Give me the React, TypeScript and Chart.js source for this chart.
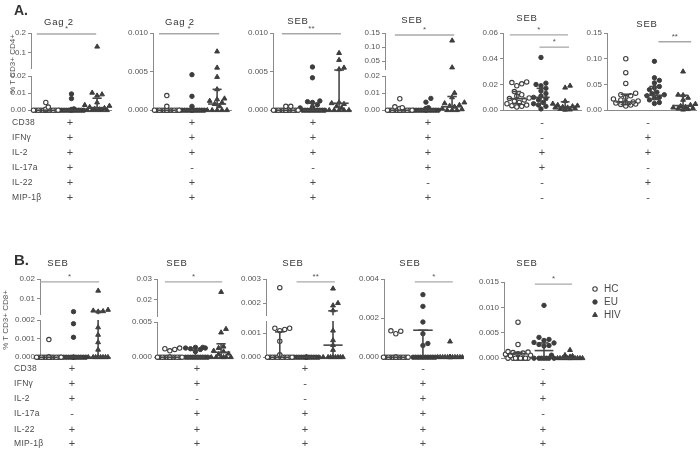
import React, { useEffect, useRef } from 'react';
import { Chart, registerables } from 'chart.js';

Chart.register(...registerables);

const FONT = '"Liberation Sans", Arial, Helvetica, sans-serif';
const INK = '#3d3d3d';
const AXIS = '#8a8a8a';
const SIGC = '#a8a8a8';
const TXT = '#4a4a4a';

const GROUP_NAMES = ['HC', 'EU', 'HIV'];

// ---------- Panel A1 (Gag 2, CD4) ----------
const a1HC = [0, 0, 0, 0, 0, 0, 0, 0, 0, 0, 0, 0, 0, 0.0006, 0.0018, 0.0045];
const a1EU = [0, 0, 0, 0, 0, 0, 0, 0, 0, 0, 0, 0, 0.0004, 0.0008, 0.0068, 0.0095];
const a1HIV = [0, 0, 0, 0, 0, 0.0004, 0.0008, 0.0012, 0.0018, 0.0025, 0.003, 0.0045, 0.0085, 0.0092, 0.0102, 0.13];
const a1Med = [0, 0, 0.0015];
const a1Q1 = [0, 0, 0];
const a1Q3 = [0, 0, 0.007];
const a1Sig = [{ from: -0.35, to: 1.96, y: 0.195, label: '*' }];

// ---------- Panel A2 (Gag 2) ----------
const a2HC = [0, 0, 0, 0, 0, 0, 0, 0, 0, 0, 0, 0, 0, 0, 0, 0.0005, 0.0019];
const a2EU = [0, 0, 0, 0, 0, 0, 0, 0, 0, 0, 0, 0, 0, 0.0005, 0.0018, 0.0046];
const a2HIV = [0, 0, 0, 0, 0, 0.0005, 0.0008, 0.001, 0.0012, 0.0014, 0.0015, 0.0027, 0.0043, 0.0055, 0.0076];
const a2Med = [0, 0, 0.0008];
const a2Q1 = [0, 0, 0];
const a2Q3 = [0, 0, 0.0027];
const a2Sig = [{ from: -0.31, to: 2.08, y: 0.0099, label: '*' }];

// ---------- Panel A3 (SEB) ----------
const a3HC = [0, 0, 0, 0, 0, 0, 0, 0, 0, 0, 0, 0, 0, 0, 0, 0.0005, 0.0005];
const a3EU = [0, 0, 0, 0, 0, 0, 0, 0, 0, 0, 0.0003, 0.0004, 0.0007, 0.001, 0.0011, 0.0012, 0.0042, 0.0056];
const a3HIV = [0, 0, 0, 0, 0, 0.0003, 0.0005, 0.0008, 0.0009, 0.001, 0.0053, 0.0055, 0.0065, 0.0074];
const a3Med = [0, 0, 0.0009];
const a3Q1 = [0, 0, 0];
const a3Q3 = [0, 0.0009, 0.0052];
const a3Sig = [{ from: -0.15, to: 2.07, y: 0.0099, label: '**' }];

// ---------- Panel A4 (SEB) ----------
const a4HC = [0, 0, 0, 0, 0, 0, 0, 0, 0, 0, 0, 0, 0, 0, 0.001, 0.0015, 0.002, 0.0067];
const a4EU = [0, 0, 0, 0, 0, 0, 0, 0, 0, 0, 0, 0, 0.001, 0.0015, 0.0047, 0.0069];
const a4HIV = [0, 0, 0, 0.0005, 0.001, 0.002, 0.0025, 0.003, 0.004, 0.0045, 0.0075, 0.0101, 0.028, 0.123];
const a4Med = [0, 0, 0.002];
const a4Q1 = [0, 0, 0];
const a4Q3 = [0, 0, 0.008];
const a4Sig = [{ from: -0.19, to: 2.08, y: 0.143, label: '*' }];

// ---------- Panel A5 (SEB) ----------
const a5HC = [0.0025, 0.003, 0.0035, 0.004, 0.005, 0.006, 0.007, 0.008, 0.009, 0.0095, 0.011, 0.012, 0.0145, 0.019, 0.0205, 0.0215, 0.022];
const a5EU = [0.001, 0.003, 0.004, 0.005, 0.006, 0.008, 0.009, 0.01, 0.011, 0.013, 0.015, 0.017, 0.019, 0.02, 0.021, 0.041];
const a5HIV = [0.0003, 0.0005, 0.001, 0.0015, 0.002, 0.002, 0.0025, 0.003, 0.0035, 0.004, 0.005, 0.007, 0.0175, 0.019];
const a5Med = [0.009, 0.01, 0.0025];
const a5Q1 = [0.005, 0.005, 0.001];
const a5Q3 = [0.0145, 0.017, 0.0065];
const a5Sig = [
  { from: -0.29, to: 2.12, y: 0.0585, label: '*' },
  { from: 0.94, to: 2.16, y: 0.049, label: '*' },
];

// ---------- Panel A6 (SEB) ----------
const a6HC = [0.008, 0.01, 0.011, 0.012, 0.014, 0.015, 0.016, 0.018, 0.02, 0.022, 0.025, 0.028, 0.03, 0.033, 0.052, 0.073, 0.1];
const a6EU = [0.013, 0.015, 0.02, 0.024, 0.025, 0.028, 0.03, 0.032, 0.035, 0.04, 0.044, 0.046, 0.053, 0.058, 0.063, 0.095];
const a6HIV = [0.001, 0.002, 0.003, 0.004, 0.005, 0.006, 0.008, 0.01, 0.012, 0.02, 0.024, 0.029, 0.03, 0.075];
const a6Med = [0.016, 0.029, 0.009];
const a6Q1 = [0.011, 0.021, 0.002];
const a6Q3 = [0.031, 0.046, 0.029];
const a6Sig = [{ from: 1.14, to: 2.28, y: 0.133, label: '**' }];

// ---------- Panel B1 (SEB, CD8) ----------
const b1HC = [0, 0, 0, 0, 0, 0, 0, 0, 0, 0, 0, 0, 0, 0, 0, 0.00095];
const b1EU = [0, 0, 0, 0, 0, 0, 0, 0, 0, 0, 0, 0, 0, 0.00107, 0.0018, 0.0033];
const b1HIV = [0, 0, 0, 0, 0, 0, 0, 0, 0.0004, 0.0008, 0.0012, 0.0016, 0.0033, 0.0035, 0.0038, 0.0042, 0.014];
const b1Med = [0, 0, 0];
const b1Q1 = [0, 0, 0];
const b1Q3 = [0, 0, 0.0035];
const b1Sig = [{ from: -0.36, to: 2.04, y: 0.0185, label: '*' }];

// ---------- Panel B2 (SEB) ----------
const b2HC = [0, 0, 0, 0, 0, 0, 0, 0, 0, 0, 0, 0, 0, 0, 0.0009, 0.0011, 0.0012, 0.0013];
const b2EU = [0, 0, 0, 0, 0, 0, 0, 0, 0, 0, 0.0008, 0.0011, 0.0012, 0.0013, 0.0013, 0.0014, 0.0014];
const b2HIV = [0, 0, 0, 0, 0, 0, 0.0004, 0.0005, 0.0008, 0.0009, 0.0013, 0.0015, 0.0035, 0.004, 0.0237];
const b2Med = [0, 0, 0.0007];
const b2Q1 = [0, 0, 0];
const b2Q3 = [0, 0.001, 0.0019];
const b2Sig = [{ from: -0.19, to: 2.04, y: 0.0286, label: '*' }];

// ---------- Panel B3 (SEB) ----------
const b3HC = [0, 0, 0, 0, 0, 0, 0, 0, 0, 0, 0, 0.0001, 0.00066, 0.0011, 0.00115, 0.0012, 0.0012, 0.00264];
const b3EU = [0, 0, 0, 0, 0, 0, 0, 0, 0, 0, 0, 0, 0, 0, 0];
const b3HIV = [0, 0, 0, 0, 0, 0, 0, 0, 0.0003, 0.0005, 0.0007, 0.0011, 0.0017, 0.0019, 0.002, 0.0026];
const b3Med = [0, 0, 0.0005];
const b3Q1 = [0, 0, 0];
const b3Q3 = [0.00105, 0, 0.00168];
const b3Sig = [{ from: 0.63, to: 2.07, y: 0.00288, label: '**' }];

// ---------- Panel B4 (SEB) ----------
const b4HC = [0, 0, 0, 0, 0, 0, 0, 0, 0, 0, 0, 0, 0, 0, 0.0012, 0.00133, 0.00135];
const b4EU = [0, 0, 0, 0, 0, 0, 0, 0, 0, 0, 0.0006, 0.0007, 0.0012, 0.0018, 0.0026, 0.0032];
const b4HIV = [0, 0, 0, 0, 0, 0, 0, 0, 0, 0, 0, 0, 0, 0, 0.0008];
const b4Med = [0, 0.00138, 0];
const b4Q1 = [0, 0, 0];
const b4Q3 = [0, 0.00138, 0];
const b4Sig = [{ from: 0.7, to: 2.1, y: 0.00385, label: '*' }];

// ---------- Panel B5 (SEB) ----------
const b5HC = [0, 0, 0, 0, 0, 0, 0, 0, 0.0005, 0.0006, 0.0008, 0.0009, 0.001, 0.0011, 0.0012, 0.0013, 0.0027, 0.0071];
const b5EU = [0, 0, 0, 0, 0, 0, 0, 0.0006, 0.0024, 0.0025, 0.0027, 0.003, 0.0031, 0.0035, 0.0037, 0.0041, 0.0104];
const b5HIV = [0, 0, 0, 0, 0, 0, 0, 0, 0, 0, 0, 0, 0.0003, 0.0004, 0.0006, 0.0016];
const b5Med = [0.0009, 0.0015, 0];
const b5Q1 = [0, 0, 0];
const b5Q3 = [0.0011, 0.003, 0];
const b5Sig = [{ from: 0.65, to: 2.08, y: 0.0146, label: '*' }];

// ---------- Marker tables ----------
const MARKER_ROWS = ['CD38', 'IFNγ', 'IL-2', 'IL-17a', 'IL-22', 'MIP-1β'];
const signsA = ['++++++', '+++-++', '+++-++', '++++-+', '--++--', '-++-+-'];
const signsB = ['+++-++', '++-+++', '+--+++', '-+++++', '-++-++'];
const colXA = [70, 192, 313, 428, 542, 648];
const colXB = [72, 197, 305, 423, 543];
const rowYA = [122, 137, 152, 167, 182, 197];
const rowYB = [368, 383, 398, 413, 429, 443];

type Seg = { min: number; max: number; ticks: number[]; dec: number; top: number; bottom: number };
type Sig = { from: number; to: number; y: number; label: string };
type PanelDef = {
  key: string; title: string; tx: number; ty: number;
  axisX: number; xEnd: number; g0: number; g2: number;
  segs: Seg[]; groups: number[][]; med: number[]; q1: number[]; q3: number[]; sig: Sig[]; legend?: boolean;
};

const PANELS: PanelDef[] = [
  { key: 'a1', title: 'Gag 2', tx: 59, ty: 22, axisX: 31, xEnd: 113, g0: 46, g2: 98,
    segs: [
      { min: 0.02, max: 0.2, ticks: [0.1, 0.2], dec: 1, top: 33, bottom: 69 },
      { min: 0, max: 0.02, ticks: [0, 0.01, 0.02], dec: 2, top: 76, bottom: 111 },
    ], groups: [a1HC, a1EU, a1HIV], med: a1Med, q1: a1Q1, q3: a1Q3, sig: a1Sig },
  { key: 'a2', title: 'Gag 2', tx: 180, ty: 22, axisX: 153, xEnd: 233, g0: 167, g2: 218,
    segs: [{ min: 0, max: 0.01, ticks: [0, 0.005, 0.01], dec: 3, top: 33, bottom: 111 }],
    groups: [a2HC, a2EU, a2HIV], med: a2Med, q1: a2Q1, q3: a2Q3, sig: a2Sig },
  { key: 'a3', title: 'SEB', tx: 298, ty: 21, axisX: 273, xEnd: 353, g0: 286, g2: 340,
    segs: [{ min: 0, max: 0.01, ticks: [0, 0.005, 0.01], dec: 3, top: 33, bottom: 111 }],
    groups: [a3HC, a3EU, a3HIV], med: a3Med, q1: a3Q1, q3: a3Q3, sig: a3Sig },
  { key: 'a4', title: 'SEB', tx: 412, ty: 20, axisX: 385, xEnd: 465, g0: 400, g2: 453,
    segs: [
      { min: 0.022, max: 0.15, ticks: [0.05, 0.1, 0.15], dec: 2, top: 33, bottom: 70 },
      { min: 0, max: 0.02, ticks: [0, 0.01, 0.02], dec: 2, top: 76, bottom: 111 },
    ], groups: [a4HC, a4EU, a4HIV], med: a4Med, q1: a4Q1, q3: a4Q3, sig: a4Sig },
  { key: 'a5', title: 'SEB', tx: 527, ty: 18, axisX: 503, xEnd: 583, g0: 517, g2: 566,
    segs: [{ min: 0, max: 0.06, ticks: [0, 0.02, 0.04, 0.06], dec: 2, top: 33, bottom: 111 }],
    groups: [a5HC, a5EU, a5HIV], med: a5Med, q1: a5Q1, q3: a5Q3, sig: a5Sig },
  { key: 'a6', title: 'SEB', tx: 647, ty: 24, axisX: 607, xEnd: 698, g0: 626, g2: 684,
    segs: [{ min: 0, max: 0.15, ticks: [0, 0.05, 0.1, 0.15], dec: 2, top: 33, bottom: 111 }],
    groups: [a6HC, a6EU, a6HIV], med: a6Med, q1: a6Q1, q3: a6Q3, sig: a6Sig },
  { key: 'b1', title: 'SEB', tx: 58, ty: 263, axisX: 40, xEnd: 112, g0: 49, g2: 99,
    segs: [
      { min: 0.002, max: 0.02, ticks: [0.01, 0.02], dec: 2, top: 279, bottom: 315 },
      { min: 0, max: 0.002, ticks: [0, 0.001, 0.002], dec: 3, top: 320, bottom: 358 },
    ], groups: [b1HC, b1EU, b1HIV], med: b1Med, q1: b1Q1, q3: b1Q3, sig: b1Sig },
  { key: 'b2', title: 'SEB', tx: 177, ty: 263, axisX: 157, xEnd: 234, g0: 170, g2: 222,
    segs: [
      { min: 0.012, max: 0.03, ticks: [0.02, 0.03], dec: 2, top: 279, bottom: 317 },
      { min: 0, max: 0.005, ticks: [0, 0.005], dec: 3, top: 322, bottom: 358 },
    ], groups: [b2HC, b2EU, b2HIV], med: b2Med, q1: b2Q1, q3: b2Q3, sig: b2Sig },
  { key: 'b3', title: 'SEB', tx: 293, ty: 263, axisX: 266, xEnd: 342, g0: 280, g2: 334,
    segs: [
      { min: 0.0015, max: 0.003, ticks: [0.002, 0.003], dec: 3, top: 279, bottom: 316 },
      { min: 0, max: 0.0015, ticks: [0, 0.001], dec: 3, top: 321, bottom: 358 },
    ], groups: [b3HC, b3EU, b3HIV], med: b3Med, q1: b3Q1, q3: b3Q3, sig: b3Sig },
  { key: 'b4', title: 'SEB', tx: 410, ty: 263, axisX: 384, xEnd: 460, g0: 396, g2: 451,
    segs: [{ min: 0, max: 0.004, ticks: [0, 0.002, 0.004], dec: 3, top: 279, bottom: 358 }],
    groups: [b4HC, b4EU, b4HIV], med: b4Med, q1: b4Q1, q3: b4Q3, sig: b4Sig },
  { key: 'b5', title: 'SEB', tx: 527, ty: 263, axisX: 504, xEnd: 583, g0: 518, g2: 570,
    segs: [{ min: 0, max: 0.015, ticks: [0, 0.005, 0.01, 0.015], dec: 3, top: 282, bottom: 359 }],
    groups: [b5HC, b5EU, b5HIV], med: b5Med, q1: b5Q1, q3: b5Q3, sig: b5Sig, legend: true },
];

const YW = 36;
const PT = 12;
const PB = 6;

function segOf(p: PanelDef, v: number) {
  for (let i = p.segs.length - 1; i > 0; i--) if (v <= p.segs[i].max) return i;
  return 0;
}
function pixelY(p: PanelDef, v: number) {
  const s = p.segs[segOf(p, v)];
  return s.bottom - ((v - s.min) / (s.max - s.min)) * (s.bottom - s.top);
}
// beeswarm placement (layout only): offsets in px around the group centre
const CANDS = [0, 2.5, -2.5, 5, -5, 7.5, -7.5, 10, -10, 12.5, -12.5];
function jitter(vals: number[], p: PanelDef, unit: number, gi: number) {
  const sorted = [...vals].sort((a, b) => a - b);
  const placed: { dx: number; py: number }[] = [];
  const out: { x: number; y: number }[] = [];
  const D = 4.6;
  for (const v of sorted) {
    const py = pixelY(p, v);
    let best = 0;
    let bestD = -1;
    for (const c of CANDS) {
      let md = Infinity;
      for (const q of placed) {
        const d = Math.hypot(c - q.dx, py - q.py);
        if (d < md) md = d;
      }
      if (md >= D) { best = c; bestD = md; break; }
      if (md > bestD + 0.01) { bestD = md; best = c; }
    }
    placed.push({ dx: best, py });
    out.push({ x: gi + best / unit, y: v });
  }
  return out;
}

const STYLES = [
  { pointStyle: 'circle', radius: 2.2, bg: '#ffffff', border: INK, bw: 1.1 },
  { pointStyle: 'circle', radius: 2.2, bg: INK, border: INK, bw: 1 },
  { pointStyle: 'triangle', radius: 2.8, bg: INK, border: INK, bw: 1 },
];

function SegChart({ p, si }: { p: PanelDef; si: number }) {
  const ref = useRef<HTMLCanvasElement>(null);
  const seg = p.segs[si];
  const isBottom = si === p.segs.length - 1;
  const PR = p.legend ? 90 : 4;
  const width = YW + (p.xEnd - p.axisX) + PR;
  const height = PT + (seg.bottom - seg.top) + PB;
  const left = p.axisX - YW;
  const top = seg.top - PT;

  useEffect(() => {
    const unit = (p.g2 - p.g0) / 2;
    const xmin = -(p.g0 - p.axisX) / unit;
    const xmax = 2 + (p.xEnd - p.g2) / unit;
    const datasets = p.groups.map((vals, gi) => {
      const st = STYLES[gi];
      const pts = jitter(vals, p, unit, gi).filter((pt) => segOf(p, pt.y) === si);
      return {
        label: GROUP_NAMES[gi],
        data: pts,
        pointStyle: st.pointStyle,
        pointRadius: st.radius,
        backgroundColor: st.bg,
        borderColor: st.border,
        borderWidth: st.bw,
        showLine: false,
        clip: false,
      };
    });

    const statsPlugin = {
      id: 'stats' + p.key + si,
      afterDatasetsDraw(chart: any) {
        const ctx = chart.ctx;
        const xs = chart.scales.x;
        const ys = chart.scales.y;
        const inSeg = (v: number) => v >= seg.min && v <= seg.max;
        const clamp = (v: number) => Math.min(seg.max, Math.max(seg.min, v));
        const line = (x1: number, y1: number, x2: number, y2: number) => {
          ctx.beginPath();
          ctx.moveTo(x1, y1);
          ctx.lineTo(x2, y2);
          ctx.stroke();
        };
        ctx.save();
        ctx.strokeStyle = '#474747';
        ctx.lineWidth = 1.6;
        p.med.forEach((m, gi) => {
          const lo = p.q1[gi];
          const hi = p.q3[gi];
          const cx = xs.getPixelForValue(gi);
          const hw = xs.getPixelForValue(gi + 0.36) - cx;
          const cw = xs.getPixelForValue(gi + 0.18) - cx;
          if (hi > lo && hi >= seg.min && lo <= seg.max) {
            line(cx, ys.getPixelForValue(clamp(lo)), cx, ys.getPixelForValue(clamp(hi)));
          }
          if (hi > lo) {
            if (inSeg(hi)) line(cx - cw, ys.getPixelForValue(hi), cx + cw, ys.getPixelForValue(hi));
            if (inSeg(lo) && lo > 0) line(cx - cw, ys.getPixelForValue(lo), cx + cw, ys.getPixelForValue(lo));
          }
          if (inSeg(m)) line(cx - hw, ys.getPixelForValue(m), cx + hw, ys.getPixelForValue(m));
        });
        if (si === 0) {
          ctx.strokeStyle = SIGC;
          ctx.lineWidth = 1.3;
          ctx.fillStyle = '#555';
          ctx.font = `8px ${FONT}`;
          ctx.textAlign = 'center';
          ctx.textBaseline = 'bottom';
          p.sig.forEach((s) => {
            const y = ys.getPixelForValue(s.y);
            const x1 = xs.getPixelForValue(s.from);
            const x2 = xs.getPixelForValue(s.to);
            line(x1, y, x2, y);
            ctx.fillText(s.label, (x1 + x2) / 2, y - 1);
          });
        }
        if (p.legend && isBottom) {
          const lx = 595 - left;
          const lys = [289 - top, 302 - top, 315 - top];
          ctx.font = `10px ${FONT}`;
          ctx.textAlign = 'left';
          ctx.textBaseline = 'middle';
          GROUP_NAMES.forEach((name, gi) => {
            const st = STYLES[gi];
            const y = lys[gi];
            ctx.fillStyle = st.bg;
            ctx.strokeStyle = st.border;
            ctx.lineWidth = st.bw;
            ctx.beginPath();
            if (st.pointStyle === 'triangle') {
              const r = st.radius;
              let rad = 0;
              ctx.moveTo(lx + Math.sin(rad) * r, y - Math.cos(rad) * r);
              rad += (2 * Math.PI) / 3;
              ctx.lineTo(lx + Math.sin(rad) * r, y - Math.cos(rad) * r);
              rad += (2 * Math.PI) / 3;
              ctx.lineTo(lx + Math.sin(rad) * r, y - Math.cos(rad) * r);
              ctx.closePath();
            } else {
              ctx.arc(lx, y, st.radius, 0, Math.PI * 2);
            }
            ctx.fill();
            ctx.stroke();
            ctx.fillStyle = TXT;
            ctx.fillText(name, lx + 9, y + 0.5);
          });
        }
        ctx.restore();
      },
    };

    const chart = new Chart(ref.current as HTMLCanvasElement, {
      type: 'scatter',
      data: { datasets: datasets as any },
      options: {
        responsive: false,
        animation: false,
        events: [],
        layout: { padding: { top: PT, bottom: PB, left: 0, right: PR } },
        plugins: { legend: { display: false }, tooltip: { enabled: false }, title: { display: false } },
        scales: {
          x: {
            type: 'linear',
            min: xmin,
            max: xmax,
            display: isBottom,
            ticks: { display: false },
            grid: { display: false },
            border: { display: true, color: AXIS, width: 1 },
            afterFit: (s: any) => { s.height = 0; },
          },
          y: {
            type: 'linear',
            min: seg.min,
            max: seg.max,
            afterBuildTicks: (s: any) => { s.ticks = seg.ticks.map((v) => ({ value: v })); },
            ticks: {
              autoSkip: false,
              font: { family: FONT, size: 8 },
              color: '#555',
              padding: 2,
              callback: (v: any) => Number(v).toFixed(seg.dec),
            },
            grid: { drawOnChartArea: false, drawTicks: true, tickLength: 3, color: AXIS },
            border: { color: AXIS, width: 1 },
            afterFit: (s: any) => { s.width = YW; },
          },
        },
      } as any,
      plugins: [statsPlugin],
    });
    return () => chart.destroy();
  }, []);

  return (
    <canvas
      ref={ref}
      width={width}
      height={height}
      style={{ position: 'absolute', left, top, width, height }}
    />
  );
}

function T({ x, y, s, size = 9, bold = false, anchor = 'middle', ls = 0, color = TXT }: any) {
  const tx = anchor === 'middle' ? '-50%' : anchor === 'end' ? '-100%' : '0';
  return (
    <div
      style={{
        position: 'absolute',
        left: x,
        top: y,
        transform: `translate(${tx}, -50%)`,
        fontFamily: FONT,
        fontSize: size,
        fontWeight: bold ? 'bold' : 'normal',
        letterSpacing: ls,
        color,
        whiteSpace: 'nowrap',
        lineHeight: 1,
      }}
    >
      {s}
    </div>
  );
}

function RotText({ x, y, s }: any) {
  return (
    <div
      style={{
        position: 'absolute',
        left: x,
        top: y,
        transform: 'translate(-50%, -50%) rotate(-90deg)',
        fontFamily: FONT,
        fontSize: 8,
        color: '#555',
        whiteSpace: 'nowrap',
        lineHeight: 1,
      }}
    >
      {s}
    </div>
  );
}

export default function App() {
  return (
    <div
      style={{
        position: 'fixed',
        left: 0,
        top: 0,
        width: 700,
        height: 452,
        background: '#ffffff',
        overflow: 'hidden',
      }}
    >
      {PANELS.map((p) => p.segs.map((_, si) => <SegChart key={p.key + si} p={p} si={si} />))}
      {PANELS.map((p) => (
        <T key={'t' + p.key} x={p.tx} y={p.ty} s={p.title} size={9.5} ls={0.8} color="#333" />
      ))}
      <T x={14} y={10} s="A." size={14} bold anchor="start" color="#333" />
      <T x={14} y={259} s="B." size={15} bold anchor="start" color="#333" />
      <RotText x={13} y={64} s="% T CD3+ CD4+" />
      <RotText x={6} y={320} s="% T CD3+ CD8+" />
      {MARKER_ROWS.map((m, r) => (
        <T key={'la' + r} x={12} y={rowYA[r]} s={m} size={8.5} ls={0.3} anchor="start" />
      ))}
      {MARKER_ROWS.map((m, r) => (
        <T key={'lb' + r} x={14} y={rowYB[r]} s={m} size={8.5} ls={0.3} anchor="start" />
      ))}
      {signsA.map((col, c) =>
        col.split('').map((sg, r) => (
          <T key={'sa' + c + r} x={colXA[c]} y={rowYA[r]} s={sg} size={11} />
        ))
      )}
      {signsB.map((col, c) =>
        col.split('').map((sg, r) => (
          <T key={'sb' + c + r} x={colXB[c]} y={rowYB[r]} s={sg} size={11} />
        ))
      )}
    </div>
  );
}
